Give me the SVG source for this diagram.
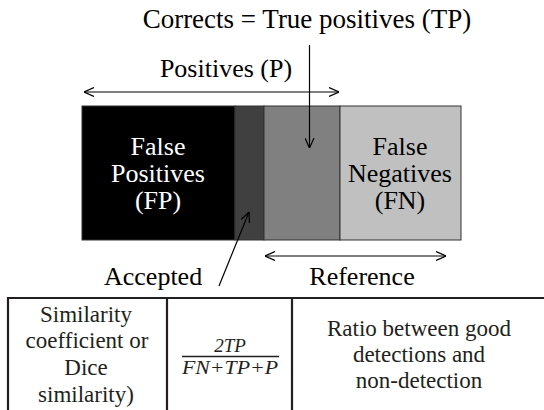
<svg xmlns="http://www.w3.org/2000/svg" width="544" height="410" viewBox="0 0 544 410" font-family="'Liberation Serif', 'Times New Roman', 'Nimbus Roman', 'DejaVu Serif', serif">
<defs>
<style>
text{font-family:'Liberation Serif','Times New Roman','Nimbus Roman','DejaVu Serif',serif;font-size:26px;fill:#000}
.w{fill:#fff}
.tb{font-size:23px;fill:#231f20}
.m{font-size:19px;font-style:italic;fill:#231f20}
.ln{stroke:#000;stroke-width:1.2;fill:none}
.seg{stroke:#333;stroke-width:1}
.grid{stroke:#231f20;stroke-width:2.2;fill:none}
</style>
<marker id="ah" viewBox="0 0 10 10" refX="10" refY="5" markerWidth="10" markerHeight="10" markerUnits="userSpaceOnUse" orient="auto-start-reverse">
<path d="M0,0.5 L10,5 L0,9.5" fill="none" stroke="#000" stroke-width="1.2"/>
</marker>
</defs>
<g id="title"><text x="307" y="28" text-anchor="middle" font-size="27" style="font-size:27px">Corrects = True positives (TP)</text></g>
<g id="positives-label"><text x="226" y="77" text-anchor="middle">Positives (P)</text></g>
<g id="fp"><rect class="seg" x="82" y="106" width="153" height="134" fill="#000"/>
<text class="w" x="158" y="155" text-anchor="middle">False</text>
<text class="w" x="158" y="182" text-anchor="middle">Positives</text>
<text class="w" x="158" y="209" text-anchor="middle">(FP)</text></g>
<g id="accepted-seg"><rect class="seg" x="235" y="106" width="29" height="134" fill="#404040"/></g>
<g id="tp"><rect class="seg" x="264" y="106" width="76" height="134" fill="#808080"/></g>
<g id="fn"><rect class="seg" x="340" y="106" width="121" height="134" fill="#c0c0c0"/>
<text x="400" y="155" text-anchor="middle">False</text>
<text x="400" y="182" text-anchor="middle">Negatives</text>
<text x="400" y="209" text-anchor="middle">(FN)</text></g>
<g id="accepted-label"><text x="104" y="285">Accepted</text></g>
<g id="reference-label"><text x="362" y="285" text-anchor="middle">Reference</text></g>
<g id="connectors">
<line class="ln" x1="84" y1="92" x2="339" y2="92" marker-start="url(#ah)" marker-end="url(#ah)"/>
<line class="ln" x1="309.5" y1="45" x2="309.5" y2="148" marker-end="url(#ah)"/>
<line class="ln" x1="219" y1="286" x2="249" y2="212" marker-end="url(#ah)"/>
<line class="ln" x1="265" y1="256" x2="446" y2="256" marker-start="url(#ah)" marker-end="url(#ah)"/>
</g>
<g id="table">
<path class="grid" d="M8,410 V298 H544 M167,298 V410 M292,298 V410"/>
<text class="tb" x="86" y="322" text-anchor="middle">Similarity</text>
<text class="tb" x="87" y="348" text-anchor="middle">coefficient or</text>
<text class="tb" x="86" y="375" text-anchor="middle">Dice</text>
<text class="tb" x="86" y="402" text-anchor="middle">similarity)</text>
<text class="m" x="230" y="352" text-anchor="middle">2TP</text>
<line x1="182" y1="356.5" x2="279" y2="356.5" stroke="#231f20" stroke-width="1.3"/>
<text class="m" x="230" y="374" text-anchor="middle" textLength="96" lengthAdjust="spacingAndGlyphs">FN+TP+P</text>
<text class="tb" x="419" y="336" text-anchor="middle">Ratio between good</text>
<text class="tb" x="419" y="362" text-anchor="middle">detections and</text>
<text class="tb" x="419" y="388" text-anchor="middle">non-detection</text>
</g>
</svg>
